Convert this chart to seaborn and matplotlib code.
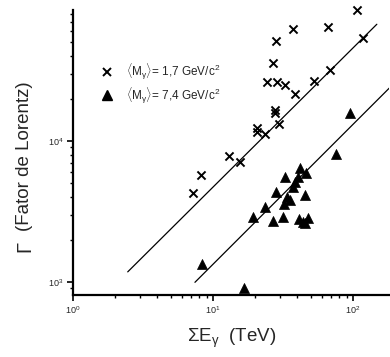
import numpy as np
import pandas as pd
import matplotlib
matplotlib.use("Agg")
import matplotlib.pyplot as plt
from matplotlib.lines import Line2D
from matplotlib.ticker import LogLocator, NullFormatter
import seaborn as sns

# Light-meson sample (<M_gamma> = 1.7 GeV/c^2): total energy (TeV) and Lorentz factor
e_light = [106, 65.9, 37.1, 28.3, 117, 27.0, 68.5, 52.7, 24.2, 28.5, 32.7,
           38.5, 27.9, 27.9, 29.5, 20.5, 20.6, 23.5, 13.1, 15.6, 8.21, 7.23]
g_light = [84900, 64000, 62200, 51400, 53400, 35600, 31900, 26700, 26100, 26300, 24900,
           21400, 16600, 15700, 13300, 12300, 11600, 11300, 7870, 7070, 5740, 4250]

# Heavy sample (<M_gamma> = 7.4 GeV/c^2)
e_heavy = [95.2, 75.6, 41.8, 46.2, 32.7, 40.3, 38.5, 37.5, 28.2, 45.4, 33.6, 35.5,
           32.1, 23.5, 19.4, 26.7, 31.8, 41.3, 44.2, 47.9, 45.4, 8.3, 16.7]
g_heavy = [15700, 8090, 6400, 5960, 5530, 5560, 5140, 4700, 4370, 4140, 3990, 3820,
           3580, 3420, 2900, 2710, 2880, 2790, 2650, 2830, 2640, 1340, 900]

# Straight-line fits (log-log) for each sample
e_fit_light = [2.46, 148]
g_fit_light = [1180, 67300]
e_fit_heavy = [7.43, 200]
g_fit_heavy = [995, 26100]

legend_labels = [r"$\langle\mathrm{M}_{\gamma}\rangle$= 1,7 GeV/c$^2$",
                 r"$\langle\mathrm{M}_{\gamma}\rangle$= 7,4 GeV/c$^2$"]

sns.set_style("ticks")
plt.rcParams["font.family"] = ["Liberation Sans", "DejaVu Sans"]
plt.rcParams["mathtext.fontset"] = "custom"
plt.rcParams["mathtext.rm"] = "Liberation Sans"
plt.rcParams["mathtext.it"] = "Liberation Sans"
plt.rcParams["mathtext.bf"] = "Liberation Sans:bold"

fig = plt.figure(figsize=(3.9, 3.57), dpi=100)
W, H = 390, 357
ax = fig.add_axes([73 / W, 1 - 295 / H, (389 - 73) / W, (295 - 10) / H])

df_light = pd.DataFrame({"E": e_light, "G": g_light})
df_heavy = pd.DataFrame({"E": e_heavy, "G": g_heavy})
fit_light = pd.DataFrame({"E": e_fit_light, "G": g_fit_light})
fit_heavy = pd.DataFrame({"E": e_fit_heavy, "G": g_fit_heavy})

sns.lineplot(data=fit_light, x="E", y="G", ax=ax, color="black", lw=0.9)
sns.lineplot(data=fit_heavy, x="E", y="G", ax=ax, color="black", lw=0.9)

sns.scatterplot(data=df_light, x="E", y="G", ax=ax, marker="x", s=34,
                color="black", linewidth=1.4, clip_on=False, zorder=3)
sns.scatterplot(data=df_heavy, x="E", y="G", ax=ax, marker="^", s=52,
                color="black", edgecolor="black", linewidth=0.5, clip_on=False, zorder=3)

ax.set_xscale("log")
ax.set_yscale("log")
ax.set_xlim(1, 10 ** ((389 - 73) / 140))
ax.set_ylim(10 ** (3 - 13 / 141), 10 ** (4 + 131 / 141))

ax.xaxis.set_major_locator(LogLocator(base=10, numticks=10))
ax.yaxis.set_major_locator(LogLocator(base=10, numticks=10))
ax.xaxis.set_minor_locator(LogLocator(base=10, subs=np.arange(2, 10), numticks=20))
ax.yaxis.set_minor_locator(LogLocator(base=10, subs=np.arange(2, 10), numticks=20))
ax.xaxis.set_minor_formatter(NullFormatter())
ax.yaxis.set_minor_formatter(NullFormatter())

for s in ["top", "right"]:
    ax.spines[s].set_visible(False)
for s in ["left", "bottom"]:
    ax.spines[s].set_linewidth(1.6)
    ax.spines[s].set_color("black")

ax.tick_params(which="major", direction="out", length=4, width=1.2,
               labelsize=6.5, pad=3, color="black")
ax.tick_params(which="minor", direction="out", length=2.5, width=1.0, color="black")
ax.set_xlabel("")
ax.set_ylabel("")

fig.text(232 / W, 1 - 338 / H, r"$\Sigma$E$_{\gamma}$  (TeV)", fontsize=13.5,
         ha="center", va="center")
fig.text(25 / W, 1 - 156 / H, "(Fator de Lorentz)", fontsize=13.5,
         rotation=90, ha="center", va="center")
fig.text(25 / W, 1 - 246 / H, "Γ", fontsize=14.5, rotation=90, ha="center", va="center")

handles = [Line2D([], [], marker="x", ls="none", color="black", markersize=5.5, mew=1.4),
           Line2D([], [], marker="^", ls="none", color="black", markersize=7)]
ax.legend(handles, legend_labels, loc="upper left", frameon=False, fontsize=8.5,
          bbox_to_anchor=(92 / W, 1 - 56 / H), bbox_transform=fig.transFigure,
          handletextpad=0.9, labelspacing=0.25, handlelength=1.5, borderpad=0)

fig.savefig("out.png", dpi=100)
